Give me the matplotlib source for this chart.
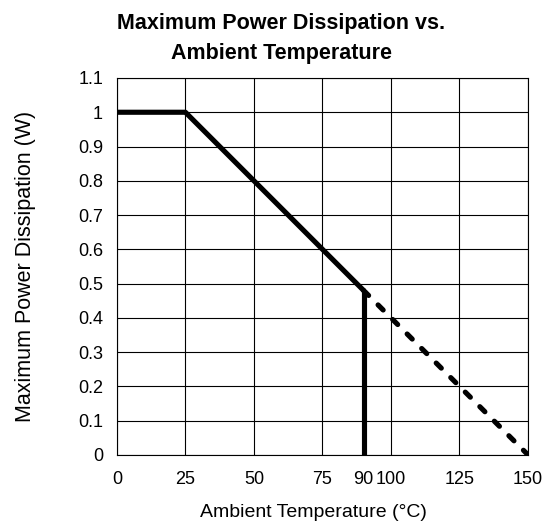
import matplotlib
matplotlib.use("Agg")
import matplotlib.pyplot as plt

plt.rcParams['font.family'] = ['Liberation Sans', 'DejaVu Sans']

# data
temp_solid = [0, 25, 90]
power_solid = [1.0, 1.0, 0.48]
temp_cut = [90, 90]
power_cut = [0.48, 0.0]
temp_dashed = [90, 150]
power_dashed = [0.48, 0.0]
x_ticks = [0, 25, 50, 75, 90, 100, 125, 150]
x_grid = [0, 25, 50, 75, 100, 125, 150]
y_ticks = [0, 0.1, 0.2, 0.3, 0.4, 0.5, 0.6, 0.7, 0.8, 0.9, 1.0, 1.1]
y_labels = ['0', '0.1', '0.2', '0.3', '0.4', '0.5', '0.6', '0.7', '0.8', '0.9', '1', '1.1']

fig = plt.figure(figsize=(5.54, 5.27), dpi=100)
ax = fig.add_axes([0.211, 0.137, 0.742, 0.715])

for x in x_grid:
    ax.axvline(x, color='black', lw=0.8, zorder=1)
for y in y_ticks:
    ax.axhline(y, color='black', lw=0.8, zorder=1)

lw = 3.7
ax.plot(temp_solid, power_solid, color='black', lw=lw, solid_capstyle='round', zorder=3)
ax.plot(temp_cut, power_cut, color='black', lw=lw, solid_capstyle='butt', zorder=3)
ax.plot(temp_dashed, power_dashed, color='black', lw=lw, linestyle=(0, (1.4, 2.6)),
        dash_capstyle='round', zorder=3)

ax.set_xlim(0, 150)
ax.set_ylim(0, 1.1)
ax.set_xticks(x_ticks)
ax.set_xticklabels([str(t) for t in x_ticks])
ax.set_yticks(y_ticks)
ax.set_yticklabels(y_labels)
ax.tick_params(direction='in', length=0, labelsize=13, pad=10)
ax.tick_params(axis='x', pad=12)
for s in ax.spines.values():
    s.set_linewidth(0.8)

ax.set_xlabel('Ambient Temperature (°C)', fontsize=14, labelpad=8)
ax.xaxis.set_label_coords(0.478, -0.13)
ax.set_ylabel('Maximum Power Dissipation (W)', fontsize=15.5)
ax.yaxis.set_label_coords(-0.198, 0.5)
ax.set_title('Maximum Power Dissipation vs.\nAmbient Temperature', fontsize=15.5,
             fontweight='bold', x=0.40, pad=14, linespacing=1.55)

fig.savefig('out.png', dpi=100)
